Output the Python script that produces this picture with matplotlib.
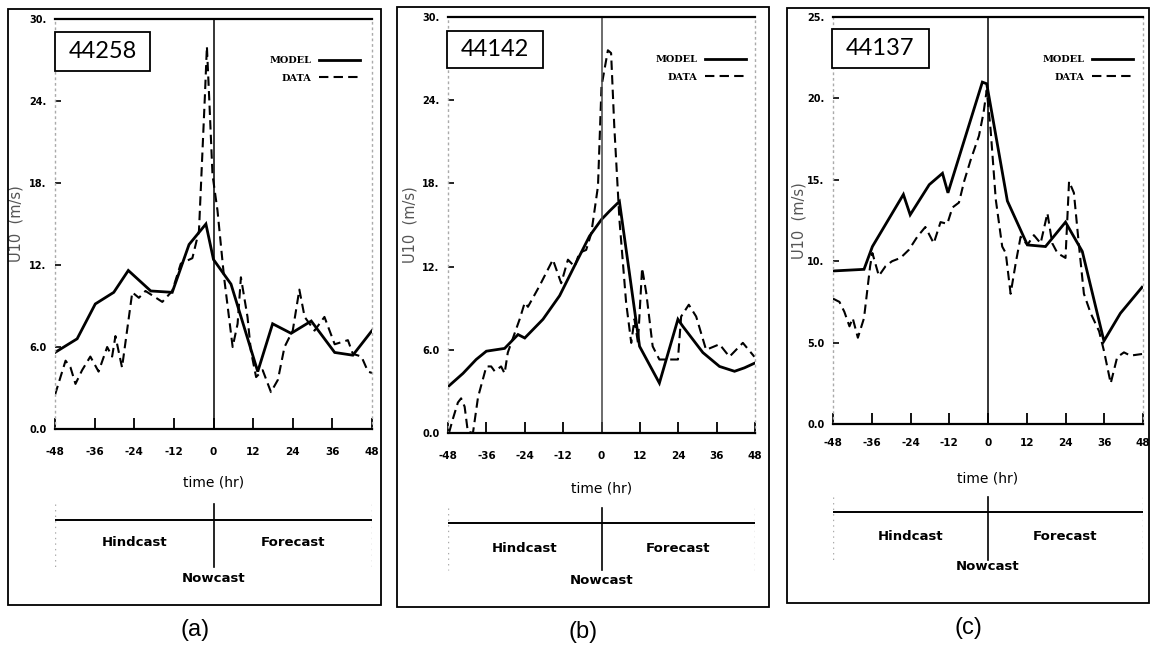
import matplotlib
matplotlib.use("Agg")
import matplotlib.pyplot as plt
from matplotlib.patches import Rectangle

W, H = 1151, 646

# ---------------- data ----------------
a_model_t = [-48, -41.3, -35.8, -30.2, -25.8, -19, -12.5, -7.4, -2.3, 0, 5.3, 13.4, 17.9, 23.5, 29.6, 36.7, 42.2, 48]
a_model_v = [5.6, 6.6, 9.15, 10.0, 11.6, 10.1, 10.0, 13.5, 15.0, 12.4, 10.6, 4.2, 7.7, 7.0, 7.9, 5.6, 5.4, 7.2]
a_data_t = [-48, -44.8, -43.3, -41.8, -39.8, -37.3, -34.8, -32.2, -30.7, -29.7, -27.7, -24.6, -22.6, -20.6,
            -15.5, -12.5, -9.9, -6.4, -4.4, -2.6, -2.0, -1.3, -0.3, 1.2, 3.2, 5.8, 7.3, 8.3, 10.3, 11.3,
            12.9, 14.9, 17.4, 19.5, 21.5, 24, 26, 27.6, 30.6, 33.6, 36.7, 40.7, 42.2, 44.8, 46.8, 48]
a_data_v = [2.5, 5.0, 4.5, 3.3, 4.3, 5.3, 4.2, 6.0, 5.3, 6.8, 4.5, 10.0, 9.6, 10.1,
            9.3, 10.1, 12.1, 12.5, 14.5, 24.4, 28.0, 24.2, 18.6, 16.0, 11.1, 6.0, 7.7, 11.1, 8.2, 5.75,
            3.8, 4.3, 2.7, 3.6, 6.0, 7.2, 10.2, 8.2, 7.2, 8.2, 6.2, 6.5, 5.5, 5.3, 4.2, 4.1]

b_model_t = [-47.7, -43.3, -39.2, -36, -30.3, -26.1, -24, -18.3, -13.1, -7.9, -3.75, 0, 2.5, 5.6, 8.75,
             11.9, 18.1, 23.9, 25.4, 31.7, 36.9, 41.6, 44.7, 48]
b_model_v = [3.4, 4.3, 5.3, 5.9, 6.1, 7.1, 6.85, 8.2, 9.9, 12.3, 14.2, 15.4, 16.0, 16.7, 11.5,
             6.25, 3.6, 8.2, 7.7, 5.8, 4.8, 4.45, 4.7, 5.05]
b_data_t = [-47.7, -46.5, -44.9, -43.9, -42.8, -41.8, -40.2, -38.6, -36, -34.5, -33.4, -31.4, -30.3, -29.3,
            -25.6, -24, -23, -19.4, -15.2, -12.6, -10.5, -8.4, -6.9, -4.8, -3.2, -1.1, 0, 2, 3, 4, 5.6,
            7.7, 9.3, 10.3, 11.4, 12.7, 14, 16, 18.1, 21.25, 23.9, 24.9, 27.3, 29.6, 32.7, 36.9, 40, 44.2, 47.8]
b_data_v = [0.0, 1.0, 2.2, 2.5, 1.9, 0.1, 0.0, 2.6, 4.8, 4.8, 4.45, 4.8, 4.3, 5.8,
            8.2, 9.4, 9.1, 10.6, 12.5, 10.8, 12.5, 12.0, 13.0, 13.2, 14.4, 17.8, 25.0, 27.6, 27.4, 22.1, 15.4,
            9.4, 6.5, 8.2, 6.5, 11.9, 10.1, 6.25, 5.3, 5.3, 5.3, 8.4, 9.25, 8.4, 6.0, 6.4, 5.5, 6.5, 5.5]

c_model_t = [-48, -38.4, -35.8, -26.2, -24.1, -18.2, -14.1, -12.4, -1.75, -0.4, 6, 12.2, 17.8, 24, 29.2,
             35.9, 41, 47.7]
c_model_v = [9.4, 9.5, 10.9, 14.1, 12.85, 14.7, 15.4, 14.2, 21.0, 20.9, 13.7, 11.0, 10.9, 12.4, 10.6,
             5.1, 6.8, 8.4]
c_data_t = [-48, -46, -44.5, -42.9, -41.9, -40.3, -38.4, -36.5, -35.8, -33.8, -31.7, -29.7, -27.1, -24.5,
            -21.9, -19.4, -16.8, -14.7, -12.6, -11, -9, -7.4, -5.4, -2.8, -1.4, -0.4, 0.8, 2.4, 4.4, 5.5,
            7, 8.6, 10.1, 12.2, 14.2, 16.3, 18.4, 19.9, 21.5, 24, 25.1, 26.6, 28.2, 29.7, 31.8, 34.4,
            35.9, 38, 40, 42.1, 44.1, 47.7]
c_data_v = [7.7, 7.5, 6.9, 6.0, 6.5, 5.3, 6.5, 9.7, 10.5, 9.1, 9.7, 10.0, 10.2, 10.7,
            11.5, 12.1, 11.1, 12.4, 12.3, 13.3, 13.6, 14.9, 16.2, 17.7, 19.1, 20.5, 18.1, 13.8, 10.9, 10.5,
            8.0, 9.9, 11.5, 11.0, 11.6, 11.1, 12.95, 11.1, 10.5, 10.2, 14.9, 14.2, 10.9, 8.0, 6.8, 5.7,
            4.5, 2.5, 4.1, 4.4, 4.2, 4.3]

x_ticks = [-48, -36, -24, -12, 0, 12, 24, 36, 48]
y_ticks_ab = [0, 6, 12, 18, 24, 30]
y_ticklabels_ab = ["0.0", "6.0", "12.", "18.", "24.", "30."]
y_ticks_c = [0, 5, 10, 15, 20, 25]
y_ticklabels_c = ["0.0", "5.0", "10.", "15.", "20.", "25."]
stations = ["44258", "44142", "44137"]
panel_letters = ["(a)", "(b)", "(c)"]
series_names = ["MODEL", "DATA"]

# ---------------- layout (pixels) ----------------
panels = [
    dict(frame=(8, 9, 381, 605), ax=(55, 372, 19, 429), ymax=30, yt=y_ticks_ab, ytl=y_ticklabels_ab,
         box=(55, 32, 150, 71), leg=(360, 56), hl=520, vl=(504, 567), hf=543, now=578,
         xl=483, pad=13, letter=(195, 630), ylab=16, vcol="black",
         model=(a_model_t, a_model_v), data=(a_data_t, a_data_v)),
    dict(frame=(397, 7, 769, 607), ax=(448, 755, 17, 433), ymax=30, yt=y_ticks_ab, ytl=y_ticklabels_ab,
         box=(447, 31, 543, 68), leg=(746, 55), hl=523, vl=(508, 570), hf=548, now=580,
         xl=488, pad=13, letter=(583, 632), ylab=410, vcol="#444444",
         model=(b_model_t, b_model_v), data=(b_data_t, b_data_v)),
    dict(frame=(787, 8, 1149, 603), ax=(833, 1143, 17, 424), ymax=25, yt=y_ticks_c, ytl=y_ticklabels_c,
         box=(832, 29, 929, 68), leg=(1133, 55), hl=512, vl=(497, 560), hf=537, now=567,
         xl=478, pad=10, letter=(968, 628), ylab=799, vcol="black",
         model=(c_model_t, c_model_v), data=(c_data_t, c_data_v)),
]

fig = plt.figure(figsize=(W / 100, H / 100), dpi=100)
fig.patch.set_facecolor("white")

def fx(p):
    return p / W

def fy(p):
    return 1 - p / H

dash = (0, (4.5, 2.5))

for i, P in enumerate(panels):
    x0, y0, x1, y1 = P["frame"]
    fig.patches.append(Rectangle((fx(x0), fy(y1)), fx(x1) - fx(x0), fy(y0) - fy(y1),
                                 transform=fig.transFigure, fill=False, ec="black", lw=1.3))
    l, r, t, b = P["ax"]
    ax = fig.add_axes([fx(l), fy(b), fx(r) - fx(l), fy(t) - fy(b)])
    ax.set_xlim(-48, 48)
    ax.set_ylim(0, P["ymax"])
    mt, mv = P["model"]
    dt, dv = P["data"]
    ax.plot(mt, mv, color="black", lw=2.0, solid_joinstyle="miter", label=series_names[0])
    ax.plot(dt, dv, color="black", lw=1.5, linestyle=dash, label=series_names[1])
    ax.axvline(0, color=P["vcol"], lw=1.1)
    for s in ["left", "right"]:
        ax.spines[s].set_color("#aaaaaa")
        ax.spines[s].set_linestyle((0, (1, 3)))
        ax.spines[s].set_linewidth(1.0)
    ax.spines["top"].set_linewidth(1.6)
    ax.spines["bottom"].set_linewidth(1.6)
    ax.set_xticks(x_ticks)
    ax.set_xticklabels([str(v) for v in x_ticks])
    ax.set_yticks(P["yt"])
    ax.set_yticklabels(P["ytl"])
    ax.tick_params(axis="x", direction="in", length=8, width=1.3, pad=P["pad"], labelsize=7.5)
    ax.tick_params(axis="y", direction="in", length=4, width=1.2, pad=6, labelsize=7)
    for lab in ax.get_xticklabels() + ax.get_yticklabels():
        lab.set_fontweight("bold")
    ax.set_ylabel("U10  (m/s)", fontsize=10.5, color="#555555")
    axw = r - l
    ax.yaxis.set_label_coords((P["ylab"] - l) / axw, 0.5)
    ax.yaxis.label.set_verticalalignment("center")
    ax.set_xlabel("time (hr)", fontsize=10)
    ax.xaxis.set_label_coords(0.5, -(P["xl"] - b) / (b - t))
    ax.xaxis.label.set_verticalalignment("center")

    # station box
    bx0, by0, bx1, by1 = P["box"]
    fig.patches.append(Rectangle((fx(bx0), fy(by1)), fx(bx1) - fx(bx0), fy(by0) - fy(by1),
                                 transform=fig.transFigure, fc="white", ec="black", lw=1.3, zorder=5))
    fig.text(fx((bx0 + bx1) / 2), fy((by0 + by1) / 2), stations[i], ha="center", va="center",
             fontsize=17, family="Lato", zorder=6)

    # legend
    lx, ly = P["leg"]
    ax.legend(loc="upper right", bbox_to_anchor=((lx - l) / axw, (b - ly) / (b - t)),
              frameon=False, markerfirst=False, handlelength=4.2, handletextpad=0.8,
              labelspacing=0.9, borderpad=0, borderaxespad=0,
              prop=dict(size=7, weight="bold", family="DejaVu Serif"))

    # timeline
    tl = fig.add_axes([fx(l), fy(600), fx(r) - fx(l), fy(490) - fy(600)])
    tl.set_xlim(-48, 48)
    tl.set_ylim(600, 490)
    tl.axis("off")
    tl.plot([-48, 48], [P["hl"], P["hl"]], color="black", lw=1.4)
    tl.plot([0, 0], list(P["vl"]), color="black", lw=1.2)
    for xe in (-48, 48):
        tl.plot([xe, xe], [P["vl"][0], P["vl"][1]], color="#aaaaaa", lw=1.0, linestyle=(0, (1, 3)))
    tl.text(-24, P["hf"], "Hindcast", ha="center", va="center", fontsize=9.5, fontweight="bold")
    tl.text(24, P["hf"], "Forecast", ha="center", va="center", fontsize=9.5, fontweight="bold")
    tl.text(0, P["now"], "Nowcast", ha="center", va="center", fontsize=9.5, fontweight="bold")

    lxp, lyp = P["letter"]
    fig.text(fx(lxp), fy(lyp), panel_letters[i], ha="center", va="center", fontsize=17,
             family="Liberation Sans")

fig.savefig("out.png", dpi=100, facecolor="white")
